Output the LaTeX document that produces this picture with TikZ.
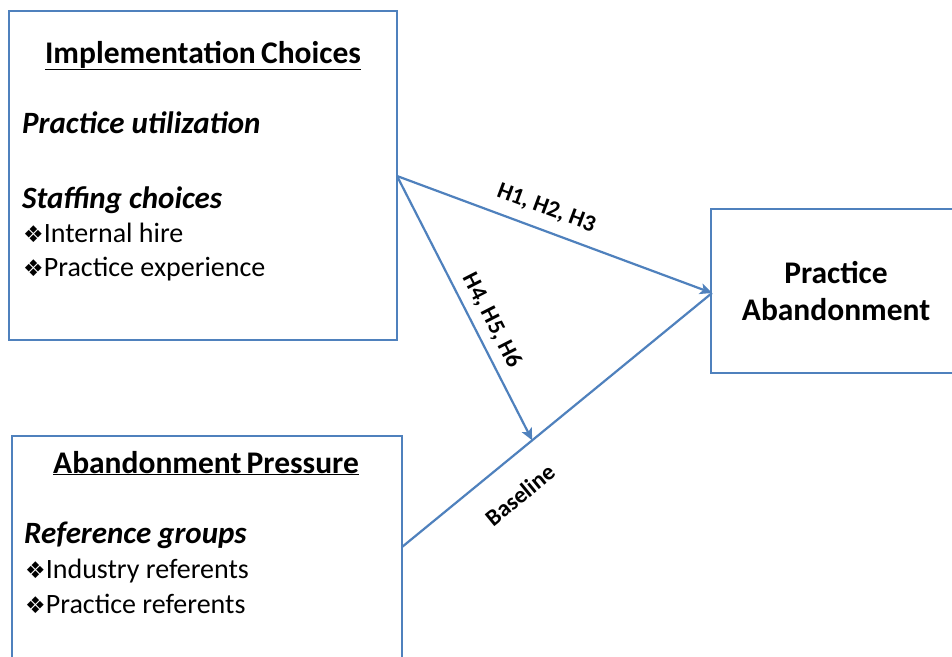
\documentclass[tikz,border=0pt]{standalone}
\usepackage{fontspec}
\setmainfont{Carlito}
\newfontfamily\dejavu{DejaVu Sans}
\usetikzlibrary{arrows.meta}
\definecolor{boxblue}{HTML}{4F81BD}
\tikzset{
  box/.style={draw=boxblue, line width=2.2pt},
  conn/.style={draw=boxblue, line width=2.2pt, -{Stealth[length=12pt,width=11pt,inset=3pt]}},
  head/.style={anchor=base, font=\fontsize{31.5}{36}\selectfont\bfseries, inner sep=0pt},
  sub/.style={anchor=base west, font=\fontsize{31}{36}\selectfont\bfseries\itshape, inner sep=0pt},
  item/.style={anchor=base west, font=\fontsize{28}{32}\selectfont, inner sep=0pt},
  lab/.style={font=\fontsize{23.5}{26}\selectfont\bfseries, inner sep=0pt},
}
\newcommand{\bul}{{\dejavu\fontsize{23}{26}\selectfont ❖}}
\begin{document}
\begin{tikzpicture}[x=1pt,y=-1pt]
\useasboundingbox (0,0) rectangle (952,656);
\clip (0,0) rectangle (952,656);
\fill[white] (0,0) rectangle (952,656);
% boxes
\draw[box] (9,11) rectangle (397,340);
\draw[box] (12,436) rectangle (402,680);
\draw[box] (711,209) rectangle (980,373);
\node[inner sep=0] (impl) at (397,176) {};
\node[inner sep=0] (pres) at (402,547) {};
\node[inner sep=0] (aband) at (712,293) {};
% box 1 text
\node[head] (t1) at (203,63) {\underline{Implementation\,Choices}};
\node[sub] (s1) at (22,133) {Practice utilization};
\node[sub] (s2) at (22,208) {Staffing choices};
\node[item] (i1) at (23,242) {\bul Internal hire};
\node[item] (i2) at (23,276) {\bul Practice experience};
% box 2 text
\node[head] (t2) at (206,473) {\underline{Abandonment\,Pressure}};
\node[sub] (s3) at (24,543) {Reference groups};
\node[item] (i3) at (25,578) {\bul Industry referents};
\node[item] (i4) at (25,613) {\bul Practice referents};
% box 3 text
\node[head] (p1) at (836,283) {Practice};
\node[head] (p2) at (836,320) {Abandonment};
% connectors
\draw[conn] (impl.center) -- (aband.center) node[lab, pos=0.45, above, sloped, yshift=11pt] (h1) {H1, H2, H3};
\draw[box] (pres.center) -- (aband.center) coordinate[pos=0.42] (meet) node[lab, pos=0.31, below, sloped, yshift=-25pt] (bl) {Baseline};
\draw[conn] (impl.center) -- (meet) node[lab, pos=0.58, above, sloped, yshift=8pt] (h4) {H4, H5, H6};
\end{tikzpicture}
\end{document}
